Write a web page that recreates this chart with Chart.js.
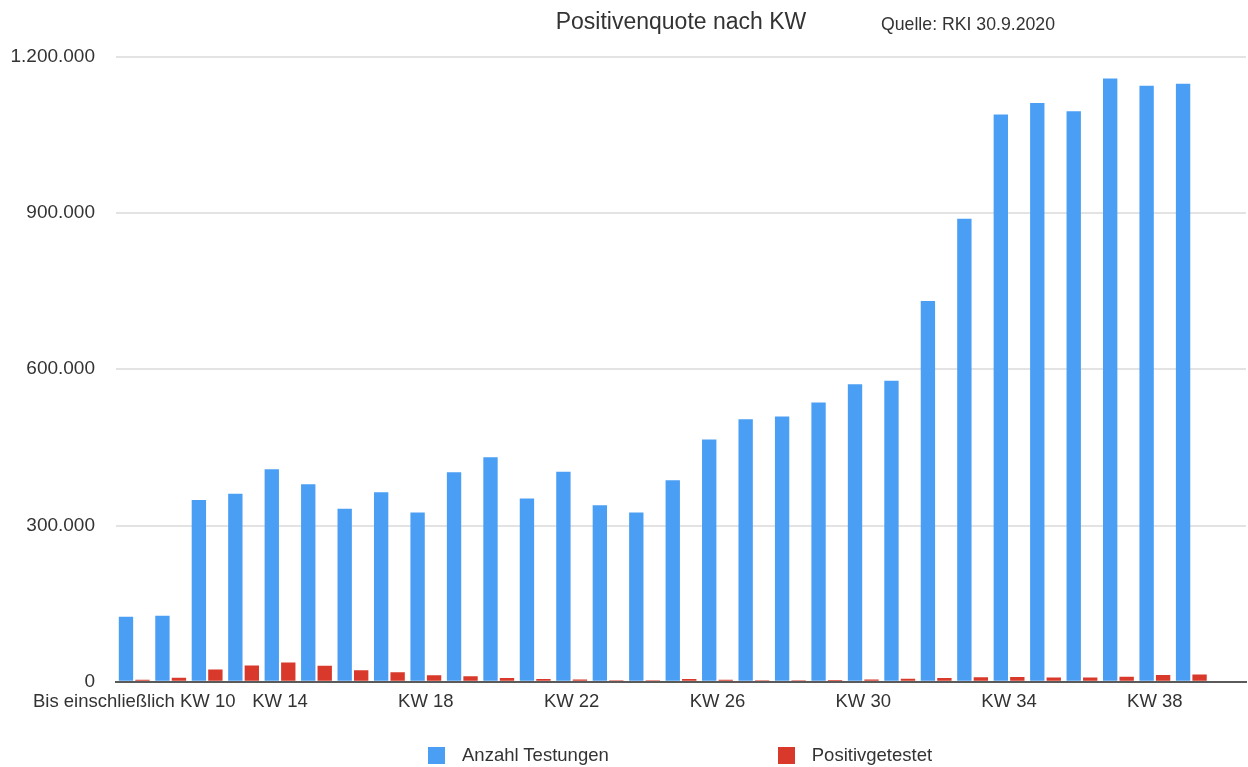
<!DOCTYPE html>
<html lang="de">
<head>
<meta charset="utf-8">
<title>Positivenquote nach KW</title>
<script src="https://cdn.jsdelivr.net/npm/chart.js@4.4.0/dist/chart.umd.min.js"></script>
<style>
  html, body { margin: 0; padding: 0; background: #fff; }
  #wrap { position: relative; width: 1248px; height: 767px; font-family: "Liberation Sans", Arial, sans-serif; }
  #source { position: absolute; left: 881px; top: 14px; line-height: 20px; font-size: 17.7px; color: #333; }
  #legend { position: absolute; left: 428px; top: 745px; display: flex; align-items: center; }
  .legend-item { display: flex; align-items: center; font-size: 18.5px; line-height: 20px; color: #333; }
  .legend-item + .legend-item { margin-left: 169px; }
  .legend-box { width: 17px; height: 17px; margin-right: 17px; }
</style>
</head>
<body>
<div id="wrap">
  <canvas id="chart" width="1248" height="767"></canvas>
  <div id="source">Quelle: RKI 30.9.2020</div>
  <div id="legend"></div>
</div>
<script>
// Kalenderwochen
const weeks = [
  "Bis einschließlich KW 10", "KW 11", "KW 12", "KW 13", "KW 14", "KW 15", "KW 16",
  "KW 17", "KW 18", "KW 19", "KW 20", "KW 21", "KW 22", "KW 23", "KW 24", "KW 25",
  "KW 26", "KW 27", "KW 28", "KW 29", "KW 30", "KW 31", "KW 32", "KW 33", "KW 34",
  "KW 35", "KW 36", "KW 37", "KW 38", "KW 39"
];

// Anzahl Testungen pro Woche
const tests = [
  125000, 127000, 349000, 361000, 408000, 379000, 332000, 364000, 325000, 402000,
  431000, 352000, 403000, 339000, 325000, 387000, 465000, 504000, 509000, 536000,
  571000, 578000, 731000, 889000, 1089000, 1111000, 1095000, 1158000, 1144000, 1148000
];

// Positiv getestet pro Woche
const positives = [
  3900, 7600, 23800, 31400, 36900, 30800, 22100, 18100, 12600, 10800,
  7200, 5200, 4300, 3200, 2800, 5300, 3700, 3100, 3000, 3500,
  4500, 5700, 7300, 8700, 9200, 8400, 8300, 9700, 13000, 14200
];

// y axis ticks
const yTicks = [0, 300000, 600000, 900000, 1200000];
// which x labels get printed
const shownWeeks = ["Bis einschließlich KW 10", "KW 14", "KW 18", "KW 22", "KW 26", "KW 30", "KW 34", "KW 38"];

const BLUE = "#4a9ff5";
const RED = "#d8392a";
const FONT = "'Liberation Sans', Arial, sans-serif";

// the source chart has one empty row at the end
const labels = [...weeks, ""];

const chart = new Chart(document.getElementById("chart"), {
  type: "bar",
  data: {
    labels: labels,
    datasets: [
      { label: "Anzahl Testungen", data: tests, backgroundColor: BLUE },
      { label: "Positivgetestet", data: positives, backgroundColor: RED }
    ]
  },
  options: {
    responsive: false,
    animation: false,
    layout: { padding: { left: 10, right: 2, bottom: 45 } },
    datasets: {
      bar: { categoryPercentage: 0.905, barPercentage: 0.87 }
    },
    plugins: {
      legend: { display: false },
      tooltip: { enabled: false },
      title: {
        display: true,
        fullSize: false,
        text: "Positivenquote nach KW",
        color: "#333",
        font: { family: FONT, size: 23, weight: "normal" },
        padding: { top: 9, bottom: 20 }
      }
    },
    scales: {
      x: {
        grid: { display: false, drawTicks: false },
        border: { display: true, color: "#5a5a5a", width: 2 },
        // long first label may hang into the y axis area
        afterFit: (scale) => { scale.paddingLeft = 0; },
        ticks: {
          autoSkip: false,
          minRotation: 0,
          maxRotation: 0,
          padding: 9,
          color: "#333",
          font: { family: FONT, size: 18.5 },
          callback: function (value) {
            const lbl = this.getLabelForValue(value);
            return shownWeeks.includes(lbl) ? lbl : "";
          }
        }
      },
      y: {
        min: 0,
        max: 1200000,
        afterBuildTicks: (axis) => { axis.ticks = yTicks.map(v => ({ value: v })); },
        afterFit: (scale) => { scale.width = 106; },
        grid: { color: "#e3e3e3", lineWidth: 2, drawTicks: false },
        border: { display: false },
        ticks: {
          padding: 21,
          color: "#333",
          font: { family: FONT, size: 19 },
          callback: (v) => v.toLocaleString("de-DE")
        }
      }
    }
  }
});

// HTML legend built from the datasets
function buildLegend() {
  const box = document.getElementById("legend");
  box.innerHTML = "";
  chart.data.datasets.forEach(ds => {
    const item = document.createElement("div");
    item.className = "legend-item";
    item.innerHTML = `<span class="legend-box" style="background:${ds.backgroundColor}"></span><span>${ds.label}</span>`;
    box.appendChild(item);
  });
}
buildLegend();
</script>
</body>
</html>
